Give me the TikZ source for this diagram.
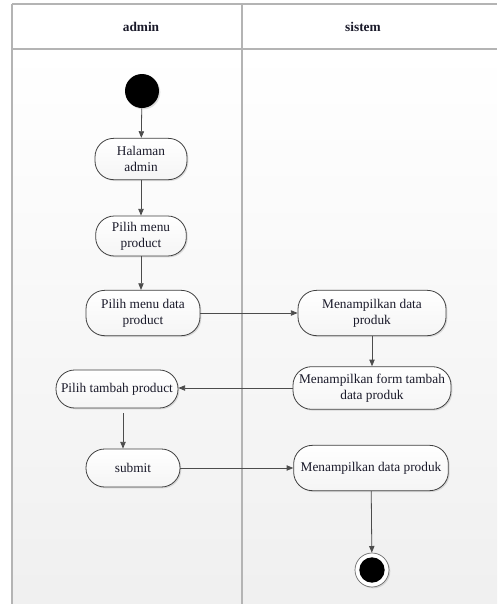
\documentclass[tikz,border=0pt]{standalone}
\usepackage{fontspec}
\setmainfont{Liberation Serif}
\usetikzlibrary{arrows.meta,shadows,calc}
\definecolor{lanegray}{HTML}{B4B4B4}
\definecolor{txt}{HTML}{1A1A2A}
\tikzset{
  act/.style={draw=black!75, line width=0.6pt, rounded corners=14pt, fill=white,
    top color=white, bottom color=black!4, align=center, inner sep=0pt,
    font=\fontsize{10}{12}\selectfont, text=txt,
    drop shadow={shadow xshift=1pt, shadow yshift=-1pt, opacity=0.25}},
  flow/.style={draw=black!70, line width=0.6pt, -{Triangle[length=5pt,width=4pt]}},
  lane/.style={draw=lanegray, line width=1.3pt},
  hdr/.style={font=\fontsize{10}{12}\selectfont\bfseries, text=txt}
}
\begin{document}
\begin{tikzpicture}[x=0.75pt,y=-0.75pt]
\useasboundingbox (0,0) rectangle (497,604);
\fill[white] (0,0) rectangle (497,604);
\shade[top color=white, bottom color=black!6] (12,49) rectangle (497,604);
% swimlanes
\draw[lane] (12,4) -- (497,4);
\draw[lane] (12,49) -- (497,49);
\draw[lane] (12,4) -- (12,604);
\draw[lane] (242,4) -- (242,604);
\node[hdr] (hadmin) at (141,27) {admin};
\node[hdr] (hsistem) at (363,27) {sistem};
% nodes
\node[circle, fill=black, minimum size=25.5pt, inner sep=0pt,
  drop shadow={shadow xshift=1pt, shadow yshift=-1pt, opacity=0.25}] (start) at (142,91) {};
\node[act, minimum width=69pt, minimum height=31pt] (halaman) at (141,159) {Halaman\\admin};
\node[act, minimum width=68pt, minimum height=30pt] (pmp) at (141,236) {Pilih menu\\product};
\node[act, minimum width=85.5pt, minimum height=34pt] (pmd) at (143,313) {Pilih menu data\\product};
\node[act, minimum width=111pt, minimum height=34pt] (mt1) at (372,313) {Menampilkan data\\produk};
\node[act, minimum width=118.5pt, minimum height=32pt] (form) at (372,388) {Menampilkan form tambah\\data produk};
\node[act, minimum width=91.5pt, minimum height=28.5pt] (ptambah) at (117,389) {Pilih tambah product};
\node[act, minimum width=70.5pt, minimum height=28.5pt] (submit) at (133,468) {submit};
\node[act, minimum width=116pt, minimum height=34pt] (mt2) at (371,468) {Menampilkan data produk};
\node[circle, draw=black!60, line width=0.5pt, fill=white, minimum size=25.5pt, inner sep=0pt,
  drop shadow={shadow xshift=1pt, shadow yshift=-1pt, opacity=0.25}] (endn) at (372,570) {};
\node[circle, fill=black, minimum size=19pt, inner sep=0pt] (endin) at (372,570) {};
% flows
\coordinate (c1) at ($(ptambah.south)+(6,5)$);
\draw[flow] (start) -- (halaman);
\draw[flow] (halaman) -- (pmp);
\draw[flow] (pmp.south) -- (pmp.south |- pmd.north);
\draw[flow] (pmd) -- (mt1);
\draw[flow] (mt1) -- (form);
\draw[flow] (form) -- (form.west -| ptambah.east);
\draw[flow] (c1) -- (c1 |- submit.north);
\draw[flow] (submit) -- (mt2);
\draw[flow] (mt2) -- (endn);
\end{tikzpicture}
\end{document}
